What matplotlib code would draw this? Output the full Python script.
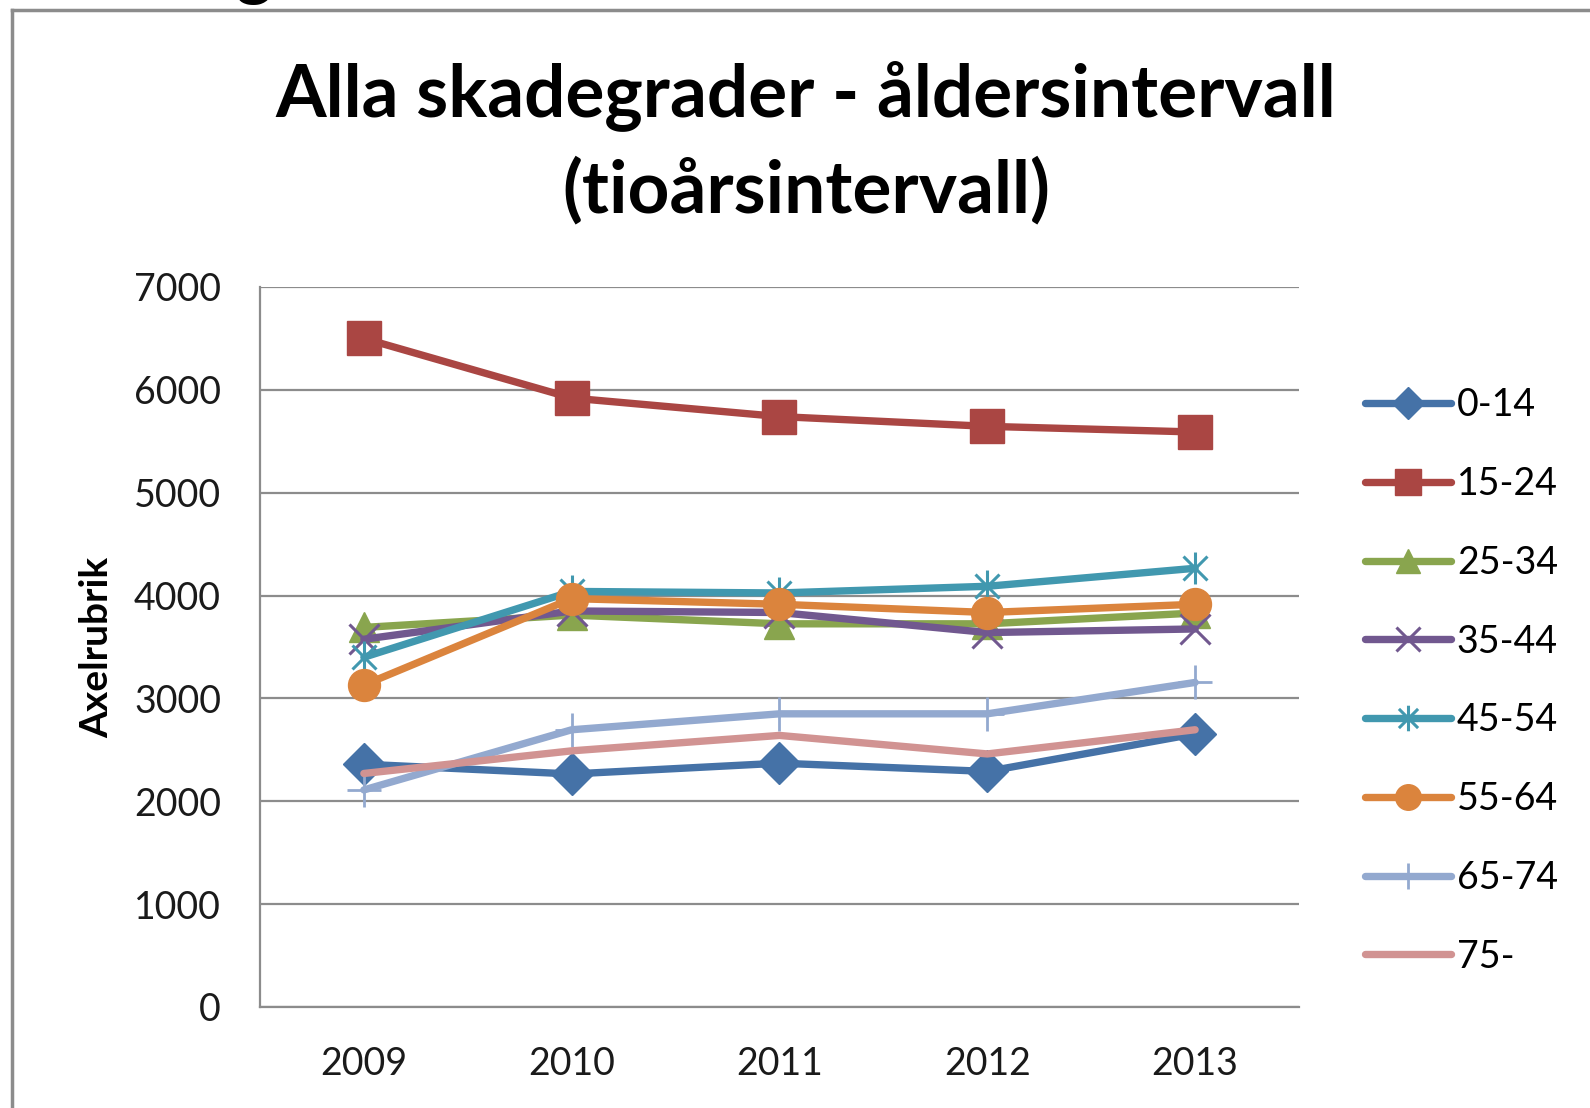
import matplotlib
matplotlib.use("Agg")
from matplotlib import pyplot as plt
from matplotlib.path import Path
from matplotlib.lines import Line2D

years = ["2009", "2010", "2011", "2012", "2013"]
groups = ["0-14", "15-24", "25-34", "35-44", "45-54", "55-64", "65-74", "75-"]

v_0_14 = [2360, 2265, 2370, 2290, 2655]
v_15_24 = [6500, 5920, 5740, 5645, 5590]
v_25_34 = [3690, 3810, 3725, 3725, 3830]
v_35_44 = [3575, 3850, 3835, 3640, 3675]
v_45_54 = [3400, 4040, 4025, 4090, 4265]
v_55_64 = [3130, 3970, 3915, 3835, 3915]
v_65_74 = [2110, 2695, 2850, 2850, 3155]
v_75 = [2270, 2490, 2640, 2460, 2695]

series = [v_0_14, v_15_24, v_25_34, v_35_44, v_45_54, v_55_64, v_65_74, v_75]
colors = ["#4572A7", "#AA4643", "#89A54E", "#71588F",
          "#4198AF", "#DB843D", "#93A9CF", "#D19392"]

# asterisk marker: vertical bar plus an x
ast = Path([(0, -1), (0, 1), (-0.75, -0.75), (0.75, 0.75), (-0.75, 0.75), (0.75, -0.75)],
           [Path.MOVETO, Path.LINETO] * 3)
markers = ["D", "s", "^", "x", ast, "o", "+", None]
msizes = [21, 24, 21, 21, 23, 23, 24, 0]
mews = [1, 1, 1, 2.2, 2.2, 1, 2.0, 1]

plt.rcParams['font.family'] = ['Lato', 'DejaVu Sans']

fig = plt.figure(figsize=(15.9, 11.08), dpi=100)
ax = fig.add_axes([0.1635, 0.0912, 0.6535, 0.6498])

x = range(len(years))
for vals, name, c, m, ms, mew in zip(series, groups, colors, markers, msizes, mews):
    ax.plot(x, vals, color=c, lw=5.3, marker=m, markersize=ms,
            markeredgewidth=mew, markeredgecolor=c, markerfacecolor=c,
            label=name, solid_capstyle='round')

ax.set_xlim(-0.5, 4.5)
ax.set_ylim(0, 7000)
ax.set_yticks(range(0, 7001, 1000))
ax.set_xticks(list(x))
ax.set_xticklabels(years)
ax.grid(axis='y', color='#8C8C8C', lw=1.6)
ax.set_axisbelow(True)
for s in ['top', 'right']:
    ax.spines[s].set_visible(False)
for s in ['left', 'bottom']:
    ax.spines[s].set_color('#8C8C8C')
    ax.spines[s].set_linewidth(1.6)
ax.tick_params(length=0, labelsize=27, colors='#1a1a1a')
ax.tick_params(axis='y', pad=28)
ax.tick_params(axis='x', pad=28)
ax.set_ylabel("Axelrubrik", fontsize=28, fontweight='bold', labelpad=14)

fig.text(0.507, 0.871, "Alla skadegrader - åldersintervall\n(tioårsintervall)",
         ha='center', va='center', fontsize=52.5, fontweight='bold',
         linespacing=1.46)

leg = fig.legend(loc='upper left', bbox_to_anchor=(0.849, 0.664), frameon=False,
                 fontsize=27, handlelength=2.3, handletextpad=0.15,
                 labelspacing=1.14, markerscale=0.8, borderaxespad=0)

# outer chart border and cut-off text at the top
fig.add_artist(Line2D([12 / 1590, 12 / 1590], [0, 1 - 10 / 1108],
                      transform=fig.transFigure, color='#8C8C8C', lw=2.5))
fig.add_artist(Line2D([12 / 1590, 1], [1 - 10 / 1108, 1 - 10 / 1108],
                      transform=fig.transFigure, color='#8C8C8C', lw=2.5))
fig.text(0.148, 1 + 9 / 1108, "g", fontsize=50, fontweight='bold', va='baseline')

fig.savefig("out.png", dpi=100)
